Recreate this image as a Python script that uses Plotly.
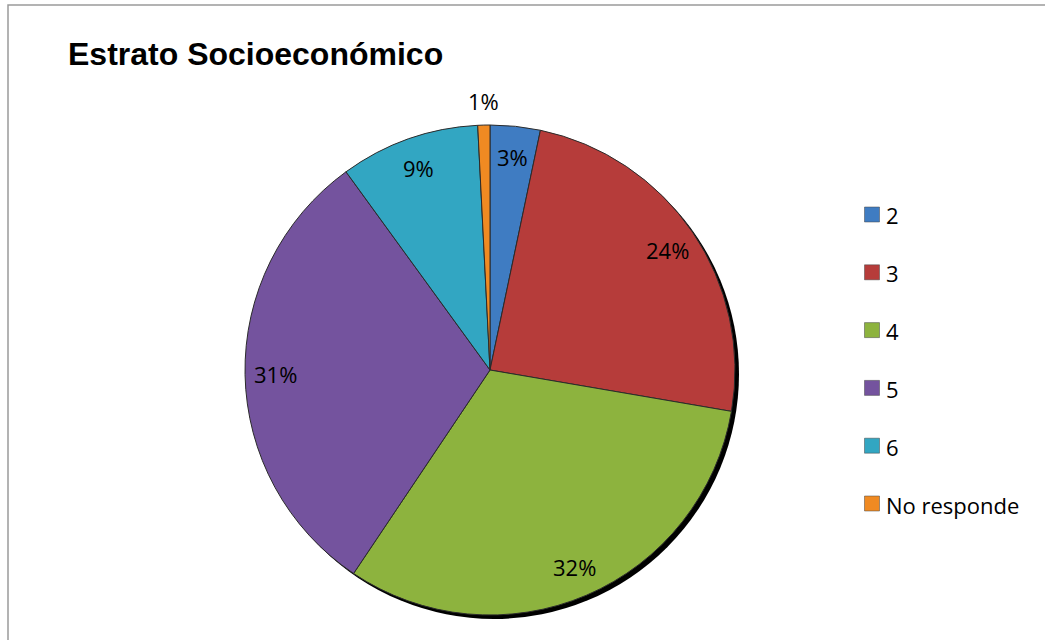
import math
import plotly.graph_objects as go

# Distribución por estrato (porcentajes)
categories = ["2", "3", "4", "5", "6", "No responde"]
values = [3.3, 24.4, 31.7, 30.6, 9.2, 0.8]
colors = ["#3F7CC2", "#B63C3A", "#8DB33E", "#74539E", "#32A6C2", "#F08A22"]
title_text = "Estrato Socioeconómico"

W, H = 1045, 640
cx, cy, R = 490, 370, 245  # pie centre and radius in pixels
label_font = dict(family="Open Sans, sans-serif", size=22, color="#000")

def px_x(x):
    return x / W

def px_y(y):
    return 1 - y / H

fig = go.Figure()

# drop shadow under the pie
sh = 4
fig.add_trace(go.Pie(
    values=[1], labels=["shadow"], marker=dict(colors=["#000000"]),
    domain=dict(x=[px_x(cx - R + sh), px_x(cx + R + sh)], y=[px_y(cy + R + sh), px_y(cy - R + sh)]),
    textinfo="none", hoverinfo="skip", showlegend=False, sort=False,
))

fig.add_trace(go.Pie(
    labels=categories, values=values, sort=False, direction="clockwise", rotation=0,
    marker=dict(colors=colors, line=dict(color="#2b2b2b", width=1)),
    domain=dict(x=[px_x(cx - R), px_x(cx + R)], y=[px_y(cy + R), px_y(cy - R)]),
    textinfo="none", showlegend=False,
))

# percentage labels placed along each slice's mid-angle
total = sum(values)
cum = 0.0
annotations = []
for cat, v in zip(categories, values):
    mid = (cum + v / 2) / total * 2 * math.pi
    cum += v
    frac = v / total
    r = 0.875 * R if frac >= 0.02 else 1.1 * R
    x = cx + r * math.sin(mid)
    y = cy - r * math.cos(mid)
    annotations.append(dict(
        x=px_x(x), y=px_y(y), xref="paper", yref="paper", showarrow=False,
        text=f"{round(frac * 100)}%", font=label_font,
        xanchor="center", yanchor="middle",
    ))

# legend drawn as squares with labels
shapes = []
leg_x, leg_y0, leg_dy, sq = 872, 214.5, 57.8, 15
for i, (cat, col) in enumerate(zip(categories, colors)):
    yy = leg_y0 + i * leg_dy
    shapes.append(dict(type="rect", xref="paper", yref="paper",
                       x0=px_x(leg_x - sq / 2), x1=px_x(leg_x + sq / 2),
                       y0=px_y(yy + sq / 2), y1=px_y(yy - sq / 2),
                       fillcolor=col, line=dict(color="#444", width=0.5)))
    annotations.append(dict(
        x=px_x(leg_x + 12), y=px_y(yy + 1), xref="paper", yref="paper", showarrow=False,
        text=cat, font=label_font,
        xanchor="left", yanchor="middle",
    ))

# chart frame
shapes.append(dict(type="rect", xref="paper", yref="paper",
                   x0=px_x(8), x1=px_x(W + 10), y0=px_y(H + 10), y1=px_y(5),
                   line=dict(color="#9a9a9a", width=1.5), fillcolor="rgba(0,0,0,0)", layer="below"))

annotations.append(dict(
    x=px_x(66), y=px_y(54), xref="paper", yref="paper", showarrow=False,
    text=f"<b>{title_text}</b>", font=dict(family="Liberation Sans, Arial, sans-serif", size=32, color="#000"),
    xanchor="left", yanchor="middle",
))

fig.update_layout(
    width=W, height=H, margin=dict(l=0, r=0, t=0, b=0),
    paper_bgcolor="white", plot_bgcolor="white",
    annotations=annotations, shapes=shapes, showlegend=False,
)

fig.write_html("out.html")
